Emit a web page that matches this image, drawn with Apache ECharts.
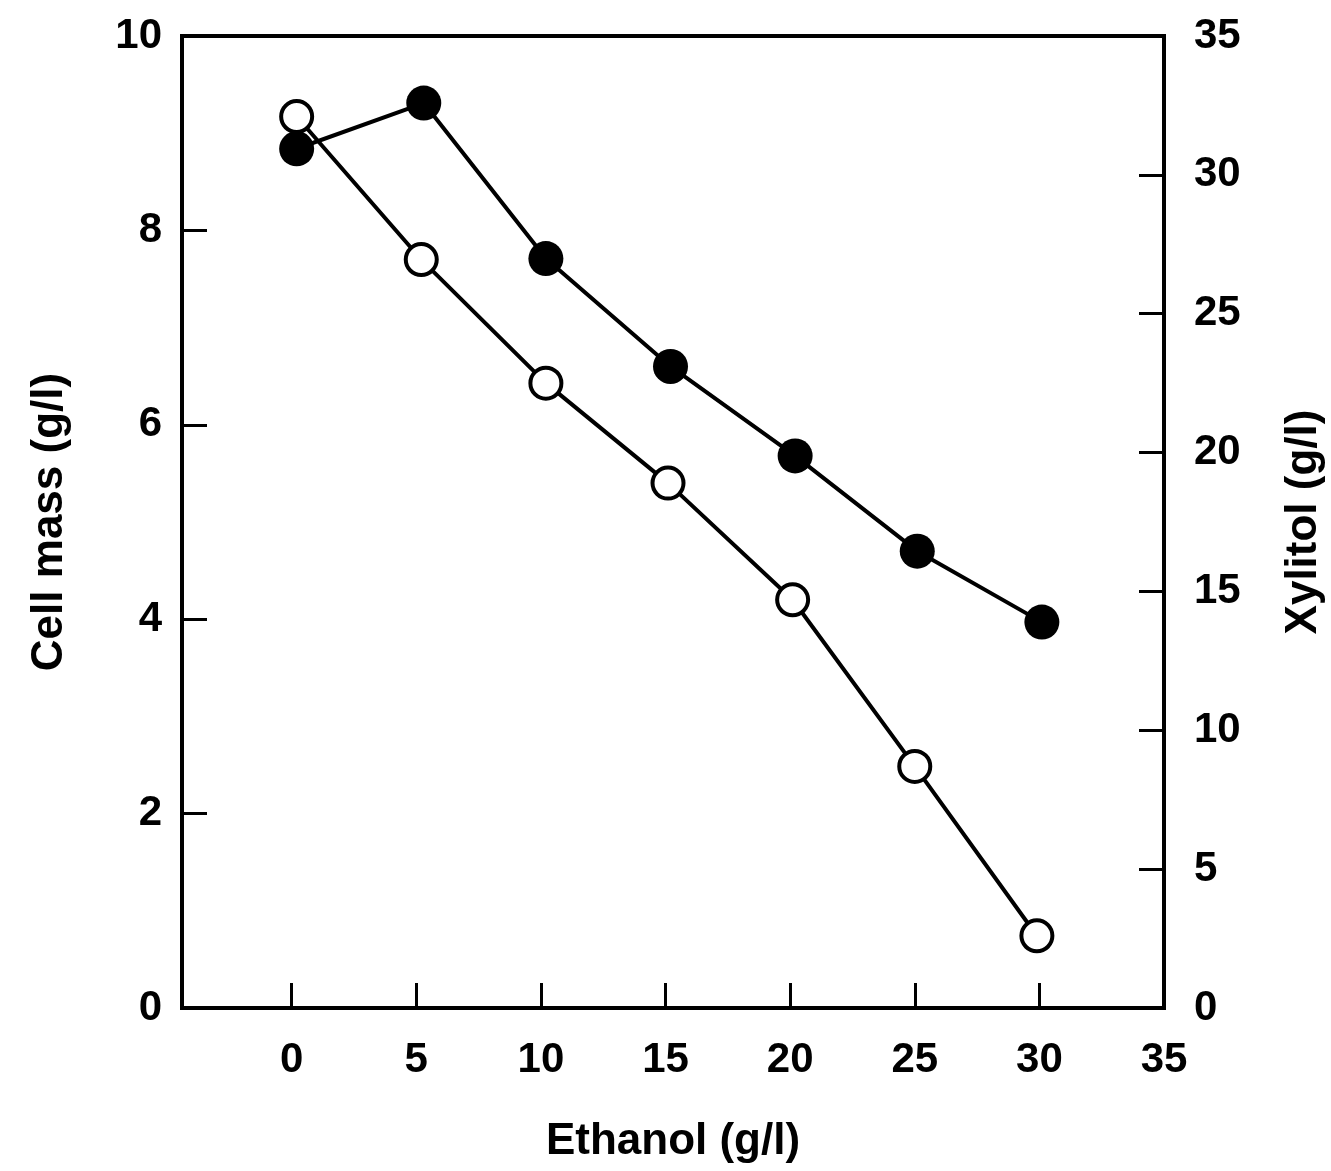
<!DOCTYPE html>
<html>
<head>
<meta charset="utf-8">
<script src="https://cdn.jsdelivr.net/npm/echarts@6/dist/echarts.min.js"></script>
<style>
    html, body { margin: 0; padding: 0; background: #fff; }
    #main { width: 1331px; height: 1171px; }
</style>
</head>
<body>
<div id="main"></div>
<script>
    // values
    var xTicks = [0, 5, 10, 15, 20, 25, 30, 35];

    // filled circles, left axis (g/l)
    var cellEthanol = [0.2, 5.3, 10.2, 15.2, 20.2, 25.1, 30.1];
    var cellMass = [8.84, 9.31, 7.71, 6.60, 5.68, 4.70, 3.97];

    // open circles, right axis (g/l)
    var xylEthanol = [0.2, 5.2, 10.2, 15.1, 20.1, 25.0, 29.9];
    var xylitol = [32.1, 26.95, 22.5, 18.9, 14.7, 8.7, 2.6];

    function pairs(xs, ys) {
        var out = [];
        for (var i = 0; i < xs.length; i++) {
            out.push([xs[i], ys[i]]);
        }
        return out;
    }

    var font = '"Liberation Sans", Arial, Helvetica, sans-serif';
    var labelStyle = {
        color: '#000',
        fontFamily: font,
        fontWeight: 'bold',
        fontSize: 42
    };
    var nameStyle = {
        color: '#000',
        fontFamily: font,
        fontWeight: 'bold',
        fontSize: 44
    };
    var lineStyle = { color: '#000', width: 4 };
    var tickStyle = { color: '#000', width: 3 };

    var chart = echarts.init(document.getElementById('main'));

    var option = {
        animation: false,
        backgroundColor: '#fff',
        grid: {
            left: 182,
            right: 167,
            top: 36,
            bottom: 163,
            outerBoundsMode: 'none',
            show: true,
            borderColor: '#000',
            borderWidth: 4
        },
        xAxis: {
            type: 'value',
            min: -4.4,
            max: 35,
            name: 'Ethanol (g/l)',
            nameLocation: 'middle',
            nameGap: 112,
            nameTextStyle: nameStyle,
            axisLine: { show: true, onZero: false, lineStyle: lineStyle },
            axisTick: { show: true, inside: true, length: 25, lineStyle: tickStyle, customValues: xTicks },
            axisLabel: Object.assign({ margin: 31, customValues: xTicks }, labelStyle),
            splitLine: { show: false }
        },
        yAxis: [{
            type: 'value',
            position: 'left',
            min: 0,
            max: 10,
            interval: 2,
            name: 'Cell mass (g/l)',
            nameLocation: 'middle',
            nameGap: 110,
            nameTextStyle: nameStyle,
            axisLine: { show: true, onZero: false, lineStyle: lineStyle },
            axisTick: { show: true, inside: true, length: 25, lineStyle: tickStyle },
            axisLabel: Object.assign({ margin: 20 }, labelStyle),
            splitLine: { show: false }
        }, {
            type: 'value',
            position: 'right',
            min: 0,
            max: 35,
            interval: 5,
            name: 'Xylitol (g/l)',
            nameLocation: 'middle',
            nameGap: 118,
            nameTextStyle: nameStyle,
            axisLine: { show: true, onZero: false, lineStyle: lineStyle },
            axisTick: { show: true, inside: true, length: 25, lineStyle: tickStyle },
            axisLabel: Object.assign({ margin: 30 }, labelStyle),
            splitLine: { show: false }
        }],
        series: [{
            name: 'Xylitol',
            type: 'line',
            yAxisIndex: 1,
            data: pairs(xylEthanol, xylitol),
            symbol: 'circle',
            symbolSize: 31,
            lineStyle: lineStyle,
            itemStyle: { color: '#fff', borderColor: '#000', borderWidth: 4 }
        }, {
            name: 'Cell mass',
            type: 'line',
            yAxisIndex: 0,
            data: pairs(cellEthanol, cellMass),
            symbol: 'circle',
            symbolSize: 35,
            lineStyle: lineStyle,
            itemStyle: { color: '#000', borderColor: '#000', borderWidth: 0 }
        }]
    };

    chart.setOption(option);
</script>
</body>
</html>
